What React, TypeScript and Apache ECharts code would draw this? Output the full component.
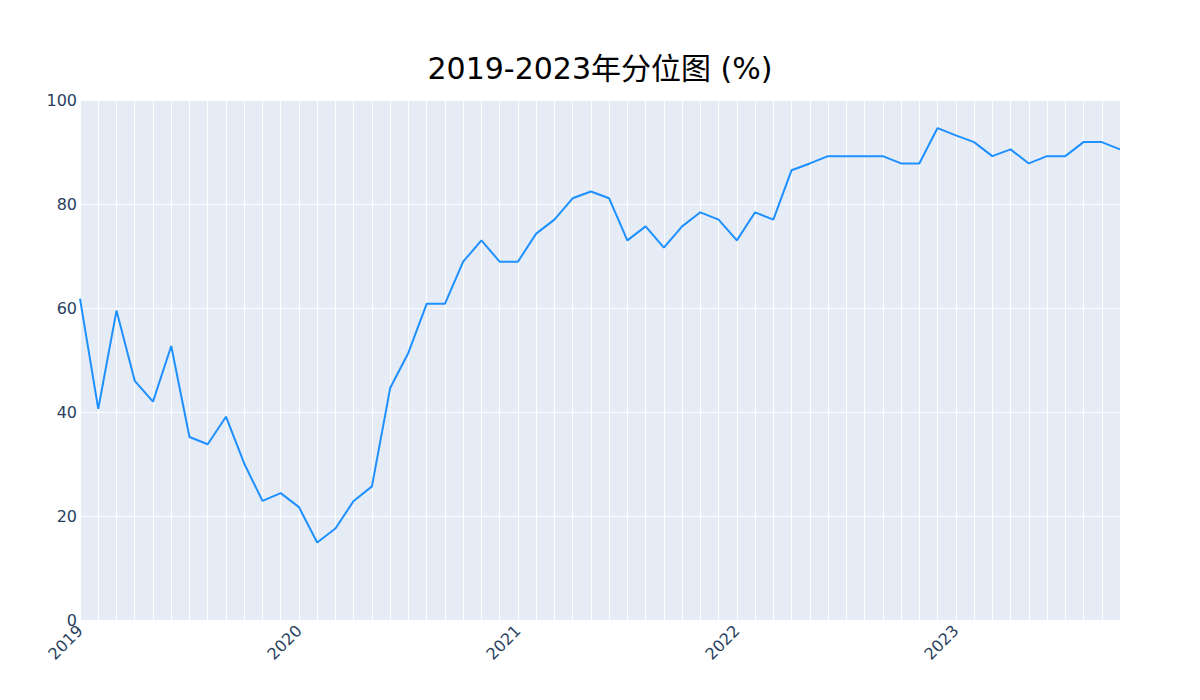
import React, { useEffect, useRef } from "react";
import * as echarts from "echarts";

const months: string[] = [];
for (let y = 2019; y <= 2023; y++) {
  for (let m = 1; m <= 12; m++) {
    if (y === 2023 && m > 10) break;
    months.push(`${y}-${String(m).padStart(2, "0")}`);
  }
}

const percentile: number[] = [
  61.8, 40.6, 59.5, 46.0, 42.0, 52.7, 35.2, 33.8, 39.1, 30.1, 22.9, 24.4,
  21.7, 14.9, 17.6, 22.9, 25.7, 44.6, 51.4, 60.8, 60.8, 68.9, 73.0, 68.9,
  68.9, 74.3, 77.0, 81.1, 82.4, 81.1, 73.0, 75.7, 71.6, 75.7, 78.4, 77.0,
  73.0, 78.4, 77.0, 86.5, 87.8, 89.2, 89.2, 89.2, 89.2, 87.8, 87.8, 94.6,
  93.2, 91.9, 89.2, 90.5, 87.8, 89.2, 89.2, 91.9, 91.9, 90.5,
];

const yTicks = { min: 0, max: 100, interval: 20 };
const titleText = "2019-2023年分位图 (%)";
const FONT = "'DejaVu Sans', 'Noto Sans CJK SC', sans-serif";

export default function App() {
  const ref = useRef<HTMLDivElement>(null);
  useEffect(() => {
    document.body.style.margin = "0";
    const chart = echarts.init(ref.current!, undefined, { renderer: "svg" });
    chart.setOption({
      animation: false,
      backgroundColor: "#ffffff",
      title: {
        text: titleText,
        left: "center",
        top: 48,
        textStyle: {
          fontFamily: FONT,
          fontSize: 30,
          fontWeight: "normal",
          color: "#000000",
        },
      },
      grid: {
        left: 80,
        right: 80,
        top: 100,
        bottom: 80,
        show: true,
        backgroundColor: "#e5ecf6",
        borderWidth: 0,
      },
      xAxis: {
        type: "category",
        data: months,
        boundaryGap: false,
        axisLine: { show: false },
        axisTick: { show: false },
        axisLabel: {
          interval: 0,
          rotate: 45,
          margin: 8,
          fontSize: 16,
          color: "#2a3f5f",
          fontFamily: FONT,
          formatter: (v: string) => (v.endsWith("-01") ? v.slice(0, 4) : ""),
        },
        splitLine: {
          show: true,
          interval: 0,
          lineStyle: { color: "#ffffff", width: 1 },
        },
      },
      yAxis: {
        type: "value",
        min: yTicks.min,
        max: yTicks.max,
        interval: yTicks.interval,
        axisLine: { show: false },
        axisTick: { show: false },
        axisLabel: {
          margin: 3,
          fontSize: 16,
          color: "#2a3f5f",
          fontFamily: FONT,
        },
        splitLine: { show: true, lineStyle: { color: "#ffffff", width: 1 } },
      },
      series: [
        {
          type: "line",
          data: percentile,
          showSymbol: false,
          symbol: "none",
          lineStyle: { color: "#1e90ff", width: 2 },
          itemStyle: { color: "#1e90ff" },
        },
      ],
    });
    return () => chart.dispose();
  }, []);
  return <div ref={ref} style={{ width: 1200, height: 700 }} />;
}
